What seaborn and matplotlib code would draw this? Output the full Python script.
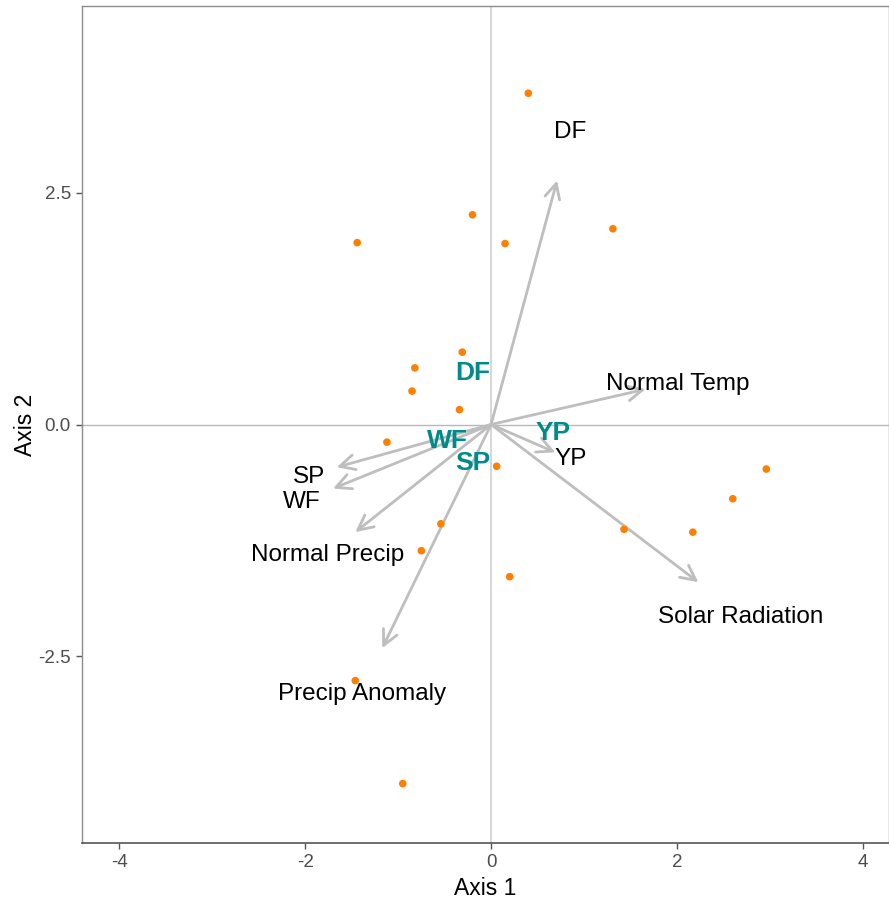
import matplotlib
matplotlib.use("Agg")
import matplotlib.pyplot as plt
import seaborn as sns
import pandas as pd

# Site scores (ordination axes 1 and 2)
site_x = [0.40, -0.20, 0.15, -1.44, 1.31, -0.31, -0.82, -0.85, -0.34, -1.12,
          0.06, 2.96, 2.60, 1.43, 2.17, -0.54, -0.75, 0.20, -1.46, -0.95]
site_y = [3.57, 2.26, 1.95, 1.96, 2.11, 0.78, 0.61, 0.36, 0.16, -0.19,
          -0.45, -0.48, -0.80, -1.13, -1.16, -1.07, -1.36, -1.64, -2.76, -3.87]

# Fitted vectors (environment and species)
vec_names = ["DF", "Normal Temp", "YP", "Solar Radiation", "SP", "WF",
             "Normal Precip", "Precip Anomaly"]
vec_x = [0.71, 1.66, 0.69, 2.23, -1.66, -1.70, -1.46, -1.17]
vec_y = [2.63, 0.38, -0.30, -1.70, -0.46, -0.69, -1.16, -2.41]
vec_lab_x = [0.85, 2.01, 0.86, 2.68, -1.96, -2.04, -1.76, -1.39]
vec_lab_y = [3.15, 0.44, -0.37, -2.07, -0.57, -0.84, -1.41, -2.90]

# Species centroids
sp_names = ["DF", "WF", "SP", "YP"]
sp_x = [-0.20, -0.47, -0.20, 0.67]
sp_y = [0.55, -0.18, -0.41, -0.09]

sns.set_theme(style="white")
plt.rcParams["font.family"] = ["Liberation Sans", "DejaVu Sans"]

fig = plt.figure(figsize=(8.89, 9.01), dpi=100)
ax = fig.add_axes([0.0922, 0.0644, 0.9078, 0.9289])

ax.axvline(0, color="#cfcfcf", lw=1.2, zorder=0)
ax.axhline(0, color="#b8b8b8", lw=1.0, zorder=0)

sites = pd.DataFrame({"x": site_x, "y": site_y})
sns.scatterplot(data=sites, x="x", y="y", color="#FF7F00", s=30,
                edgecolor="none", ax=ax, zorder=3)

for name, vx, vy, lx, ly in zip(vec_names, vec_x, vec_y, vec_lab_x, vec_lab_y):
    ax.annotate("", xy=(vx, vy), xytext=(0, 0),
                arrowprops=dict(arrowstyle="->,head_length=0.9,head_width=0.45",
                                color="#bebebe", lw=2.0, shrinkA=0, shrinkB=0),
                zorder=2)
    ax.text(lx, ly, name, ha="center", va="center", fontsize=17.5,
            color="black", zorder=4)

for name, x, y in zip(sp_names, sp_x, sp_y):
    ax.text(x, y, name, ha="center", va="center", fontsize=19,
            fontweight="bold", color="#008B8B", zorder=5)

ax.set_xlim(-4.40, 4.28)
ax.set_ylim(-4.51, 4.51)
ax.set_xticks([-4, -2, 0, 2, 4])
ax.set_xticklabels(["-4", "-2", "0", "2", "4"])
ax.set_yticks([-2.5, 0, 2.5])
ax.set_yticklabels(["-2.5", "0.0", "2.5"])
ax.set_xlabel("Axis 1", fontsize=16.5, color="black", labelpad=4)
ax.set_ylabel("Axis 2", fontsize=16.5, color="black", labelpad=1)
ax.tick_params(axis="both", which="both", direction="out", length=4,
               width=1, color="#555555", labelsize=13.5, labelcolor="#4d4d4d",
               bottom=True, left=True, pad=4)

for side in ["left", "top", "right"]:
    ax.spines[side].set_color("#8c8c8c")
    ax.spines[side].set_linewidth(1.0)
ax.spines["bottom"].set_color("#555555")
ax.spines["bottom"].set_linewidth(1.2)

fig.savefig("out.png", dpi=100, facecolor="white")
